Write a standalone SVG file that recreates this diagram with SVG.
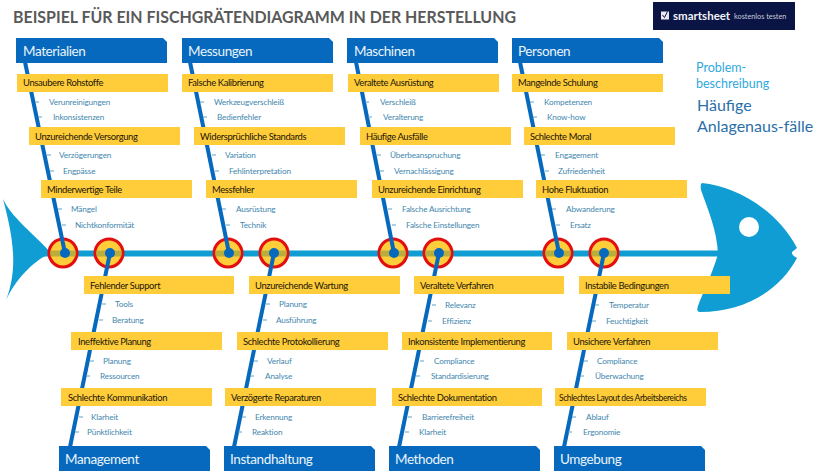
<svg xmlns="http://www.w3.org/2000/svg" width="818" height="474" viewBox="0 0 818 474">
<style>
text{font-family:"Lato","Liberation Sans",sans-serif}
.cat{fill:#0669bd}
.catt{fill:#eaf4fb;font-size:13.5px;letter-spacing:-.4px}
.y{fill:#ffcc3a}
.yt{fill:#1c1608;font-size:9.4px;letter-spacing:-.35px}
.ys{font-size:8.5px;letter-spacing:-.4px}
.st{fill:#3f87ae;font-size:8.2px;letter-spacing:-.15px}
.bone{stroke:#0669bd;stroke-width:4;fill:none}
.tick{stroke:#5fa3c8;stroke-width:1;fill:none}
.ring{fill:#ffcc3a;stroke:#e30f0f;stroke-width:3}
.band{stroke:#b9ad3c;stroke-width:6}
.dot{fill:#0669bd}
.fish{fill:#0f9dd4}
</style>
<rect width="818" height="474" fill="#fff"/>
<text x="13" y="23" font-size="17" font-weight="700" fill="#595959" textLength="503" lengthAdjust="spacingAndGlyphs">BEISPIEL FÜR EIN FISCHGRÄTENDIAGRAMM IN DER HERSTELLUNG</text>
<g id="logo"><rect x="653" y="2" width="142" height="28" fill="#0a1445"/><rect x="661" y="11.500" width="8" height="8" fill="#e8e8ee"/><path d="M662.500,15l2,2.500l3,-6" fill="none" stroke="#0a1445" stroke-width="1"/><text x="673" y="20" font-size="11.500" font-weight="700" fill="#f2f2f6">smartsheet</text><text x="734" y="19" font-size="7.300" fill="#c8cad8">kostenlos testen</text></g>
<g id="fish"><path class="fish" d="M3,199C12,218 32,232 50,252L50,254C38,258 18,275 6,300C12,285 14,268 13,253C12,235 8,218 3,199Z"/><path class="fish" d="M702,183C735,186 778,210 797,248L792,252Q791,255 797,258C780,290 745,312 700,312Q696,312 698,306C703,292 712,275 718,254C717,230 708,210 701,190Q700,184 702,183Z"/><circle cx="749" cy="227" r="10" fill="#fff"/></g>
<line id="spine" x1="40" y1="253.500" x2="720" y2="253.500" stroke="#0f9dd4" stroke-width="6"/>
<g id="joints">
<circle class="ring" cx="63" cy="253" r="14"/><circle class="ring" cx="109" cy="253" r="14"/><circle class="ring" cx="228" cy="253" r="14"/><circle class="ring" cx="274" cy="253" r="14"/><circle class="ring" cx="393" cy="253" r="14"/><circle class="ring" cx="438" cy="253" r="14"/><circle class="ring" cx="558" cy="253" r="14"/><circle class="ring" cx="604" cy="253" r="14"/>
<path class="band" d="M50.500,253.500h25M96.500,253.500h25M215.500,253.500h25M261.500,253.500h25M380.500,253.500h25M425.500,253.500h25M545.500,253.500h25M591.500,253.500h25"/>
</g>
<g id="connectors">
<g id="top-bones"><line class="bone" x1="25" y1="62" x2="65" y2="253"/><line class="bone" x1="190" y1="62" x2="229" y2="253"/><line class="bone" x1="356" y1="62" x2="394" y2="253"/><line class="bone" x1="520" y1="62" x2="559" y2="253"/></g>
<g id="bottom-bones"><line class="bone" x1="110" y1="253" x2="70" y2="447"/><line class="bone" x1="274" y1="253" x2="234" y2="447"/><line class="bone" x1="439" y1="253" x2="399" y2="447"/><line class="bone" x1="604" y1="253" x2="564" y2="447"/></g>
<path class="tick" d="M35,102h4M38,117h4M47,155h4M50,171h4M58,209h4M62,225h4M200,102h4M203,117h4M212,155h4M215,171h4M222,209h4M226,225h4M365,102h4M368,117h4M377,155h4M380,171h4M388,209h4M392,225h4M530,102h4M533,117h4M541,155h4M545,171h4M552,209h4M556,225h4"/>
<path class="tick" d="M102,304h4M99,320h4M90,361h4M86,376h4M79,417h4M75,432h4M266,304h4M263,320h4M254,361h4M250,376h4M242,417h4M238,432h4M432,305h4M428,321h4M420,361h4M416,376h4M408,417h4M405,432h4M595,305h4M592,321h4M584,361h4M580,376h4M572,417h4M568,432h4"/>
<circle class="dot" cx="65" cy="253" r="5"/><circle class="dot" cx="110" cy="253" r="5"/><circle class="dot" cx="229" cy="253" r="5"/><circle class="dot" cx="274" cy="253" r="5"/><circle class="dot" cx="394" cy="253" r="5"/><circle class="dot" cx="439" cy="253" r="5"/><circle class="dot" cx="559" cy="253" r="5"/><circle class="dot" cx="604" cy="253" r="5"/>
</g>
<defs>
<path id="tcat" class="cat" d="M0,0H147L151,4V25H0Z"/>
</defs>
<g id="n-materialien"><use href="#tcat" x="16" y="38"/><text class="catt" x="23" y="56">Materialien</text></g>
<g id="n-messungen"><use href="#tcat" x="182" y="38"/><text class="catt" x="188" y="56">Messungen</text></g>
<g id="n-maschinen"><use href="#tcat" x="347" y="38"/><text class="catt" x="354" y="56">Maschinen</text></g>
<g id="n-personen"><use href="#tcat" x="512" y="38"/><text class="catt" x="518" y="56">Personen</text></g>
<g id="n-management"><use href="#tcat" x="59" y="446"/><text class="catt" x="65" y="464">Management</text></g>
<g id="n-instandhaltung"><use href="#tcat" x="224" y="446"/><text class="catt" x="230" y="464">Instandhaltung</text></g>
<g id="n-methoden"><use href="#tcat" x="389" y="446"/><text class="catt" x="395" y="464">Methoden</text></g>
<g id="n-umgebung"><use href="#tcat" x="554" y="446"/><text class="catt" x="560" y="464">Umgebung</text></g>

<g id="c1-1"><rect class="y" x="17" y="74" width="151" height="18"/><text class="yt" x="23" y="86">Unsaubere Rohstoffe</text><text class="st" x="49" y="105">Verunreinigungen</text><text class="st" x="53" y="120">Inkonsistenzen</text></g>
<g id="c1-2"><rect class="y" x="29" y="127" width="151" height="18"/><text class="yt" x="35" y="140">Unzureichende Versorgung</text><text class="st" x="59" y="158">Verzögerungen</text><text class="st" x="63" y="174">Engpässe</text></g>
<g id="c1-3"><rect class="y" x="41" y="180" width="151" height="18"/><text class="yt" x="47" y="193">Minderwertige Teile</text><text class="st" x="71" y="212">Mängel</text><text class="st" x="75" y="228">Nichtkonformität</text></g>
<g id="c2-1"><rect class="y" x="182" y="74" width="151" height="18"/><text class="yt" x="188" y="86">Falsche Kalibrierung</text><text class="st" x="214" y="105">Werkzeugverschleiß</text><text class="st" x="217" y="120">Bedienfehler</text></g>
<g id="c2-2"><rect class="y" x="194" y="127" width="151" height="18"/><text class="yt" x="200" y="140">Widersprüchliche Standards</text><text class="st" x="225" y="158">Variation</text><text class="st" x="229" y="174">Fehlinterpretation</text></g>
<g id="c2-3"><rect class="y" x="206" y="180" width="151" height="18"/><text class="yt" x="212" y="193">Messfehler</text><text class="st" x="236" y="212">Ausrüstung</text><text class="st" x="240" y="228">Technik</text></g>
<g id="c3-1"><rect class="y" x="348" y="74" width="151" height="18"/><text class="yt" x="354" y="86">Veraltete Ausrüstung</text><text class="st" x="380" y="105">Verschleiß</text><text class="st" x="383" y="120">Veralterung</text></g>
<g id="c3-2"><rect class="y" x="360" y="127" width="151" height="18"/><text class="yt" x="366" y="140">Häufige Ausfälle</text><text class="st" x="390" y="158">Überbeanspruchung</text><text class="st" x="394" y="174">Vernachlässigung</text></g>
<g id="c3-3"><rect class="y" x="372" y="180" width="151" height="18"/><text class="yt" x="378" y="193">Unzureichende Einrichtung</text><text class="st" x="402" y="212">Falsche Ausrichtung</text><text class="st" x="406" y="228">Falsche Einstellungen</text></g>
<g id="c4-1"><rect class="y" x="512" y="74" width="151" height="18"/><text class="yt" x="518" y="86">Mangelnde Schulung</text><text class="st" x="544" y="105">Kompetenzen</text><text class="st" x="547" y="120">Know-how</text></g>
<g id="c4-2"><rect class="y" x="524" y="127" width="151" height="18"/><text class="yt" x="530" y="140">Schlechte Moral</text><text class="st" x="555" y="158">Engagement</text><text class="st" x="558" y="174">Zufriedenheit</text></g>
<g id="c4-3"><rect class="y" x="536" y="180" width="151" height="18"/><text class="yt" x="542" y="193">Hohe Fluktuation</text><text class="st" x="566" y="212">Abwanderung</text><text class="st" x="570" y="228">Ersatz</text></g>

<g id="b1-1"><rect class="y" x="84" y="276" width="150" height="18"/><text class="yt" x="90" y="289">Fehlender Support</text><text class="st" x="115" y="307">Tools</text><text class="st" x="112" y="323">Beratung</text></g>
<g id="b1-2"><rect class="y" x="71" y="332" width="151" height="18"/><text class="yt" x="78" y="345">Ineffektive Planung</text><text class="st" x="103" y="364">Planung</text><text class="st" x="100" y="379">Ressourcen</text></g>
<g id="b1-3"><rect class="y" x="61" y="388" width="151" height="18"/><text class="yt" x="68" y="401">Schlechte Kommunikation</text><text class="st" x="91" y="420">Klarheit</text><text class="st" x="87" y="435">Pünktlichkeit</text></g>
<g id="b2-1"><rect class="y" x="249" y="276" width="151" height="18"/><text class="yt" x="255" y="289">Unzureichende Wartung</text><text class="st" x="279" y="307">Planung</text><text class="st" x="276" y="323">Ausführung</text></g>
<g id="b2-2"><rect class="y" x="237" y="332" width="151" height="18"/><text class="yt" x="243" y="345">Schlechte Protokollierung</text><text class="st" x="267" y="364">Verlauf</text><text class="st" x="265" y="379">Analyse</text></g>
<g id="b2-3"><rect class="y" x="225" y="388" width="151" height="18"/><text class="yt" x="231" y="401">Verzögerte Reparaturen</text><text class="st" x="255" y="420">Erkennung</text><text class="st" x="252" y="435">Reaktion</text></g>
<g id="b3-1"><rect class="y" x="414" y="276" width="150" height="18"/><text class="yt" x="420" y="289">Veraltete Verfahren</text><text class="st" x="445" y="308">Relevanz</text><text class="st" x="442" y="324">Effizienz</text></g>
<g id="b3-2"><rect class="y" x="402" y="332" width="150" height="18"/><text class="yt" x="408" y="345">Inkonsistente Implementierung</text><text class="st" x="434" y="364">Compliance</text><text class="st" x="431" y="379">Standardisierung</text></g>
<g id="b3-3"><rect class="y" x="392" y="388" width="150" height="18"/><text class="yt" x="398" y="401">Schlechte Dokumentation</text><text class="st" x="422" y="420">Barrierefreiheit</text><text class="st" x="419" y="435">Klarheit</text></g>
<g id="b4-1"><rect class="y" x="579" y="276" width="151" height="18"/><text class="yt" x="585" y="289">Instabile Bedingungen</text><text class="st" x="609" y="308">Temperatur</text><text class="st" x="606" y="324">Feuchtigkeit</text></g>
<g id="b4-2"><rect class="y" x="567" y="332" width="151" height="18"/><text class="yt" x="573" y="345">Unsichere Verfahren</text><text class="st" x="597" y="364">Compliance</text><text class="st" x="595" y="379">Überwachung</text></g>
<g id="b4-3"><rect class="y" x="555" y="388" width="151" height="18"/><text class="yt ys" x="559" y="401">Schlechtes Layout des Arbeitsbereichs</text><text class="st" x="586" y="420">Ablauf</text><text class="st" x="583" y="435">Ergonomie</text></g>

<g id="problem"><text x="696" y="72" font-size="12.500" fill="#2fa9e0">Problem-</text><text x="696" y="88" font-size="12.500" fill="#2fa9e0">beschreibung</text><text x="697" y="111" font-size="16" fill="#2b6fa8">Häufige</text><text x="697" y="132" font-size="16" fill="#2b6fa8">Anlagenaus-fälle</text></g>
</svg>
